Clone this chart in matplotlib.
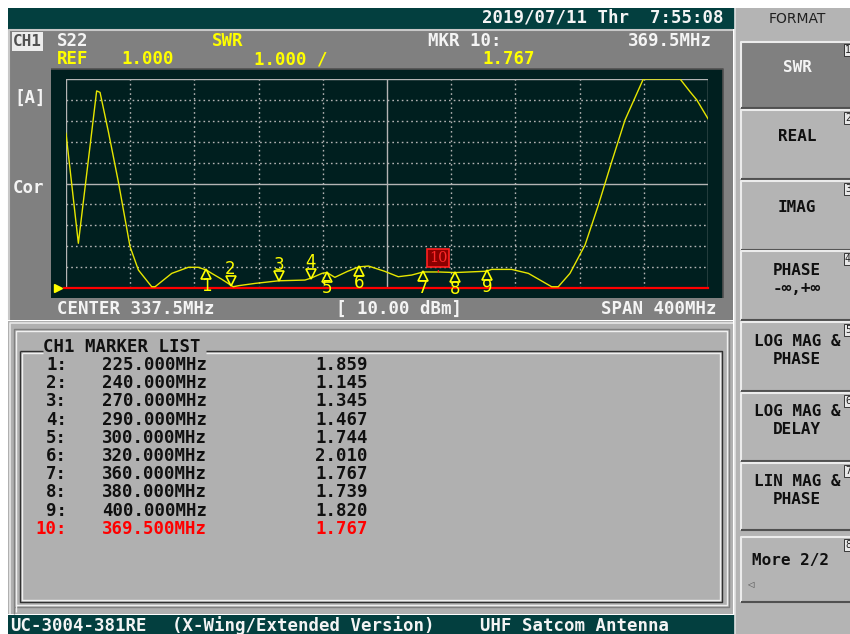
import numpy as np
import matplotlib
matplotlib.use('Agg')
import matplotlib.pyplot as plt
from matplotlib.patches import Rectangle
from matplotlib.transforms import offset_copy

# ------------------------ data ------------------------
# S22 SWR trace (MHz, SWR)
trace_freq = [137.5, 145.2, 156.6, 158.7, 163.9, 170.1, 177.4, 182.6, 190.9, 193.0,
              203.4, 213.7, 219.9, 225.0, 228.3, 234.5, 240.0, 241.7, 244.9, 255.3,
              270.0, 286.4, 290.0, 297.0, 300.0, 305.0, 313.0, 320.0, 326.0, 336.0,
              344.5, 352.9, 360.0, 369.5, 380.0, 398.6, 400.0, 402.7, 415.2, 425.6,
              440.1, 444.2, 451.5, 460.9, 469.2, 477.5, 485.8, 497.2, 520.1, 526.3,
              530.5, 537.5]
trace_swr = [8.40, 3.14, 10.43, 10.36, 8.48, 6.09, 2.98, 1.86, 1.06, 1.06,
             1.70, 1.99, 1.99, 1.859, 1.70, 1.42, 1.145, 1.06, 1.11, 1.22,
             1.345, 1.38, 1.467, 1.70, 1.744, 1.51, 1.80, 2.010, 2.05, 1.80,
             1.54, 1.62, 1.767, 1.767, 1.739, 1.80, 1.820, 1.89, 1.89, 1.70,
             1.06, 1.06, 1.70, 3.06, 4.97, 7.04, 9.04, 11.0, 11.0, 10.39,
             10.0, 9.10]

marker_freq = [225.0, 240.0, 270.0, 290.0, 300.0, 320.0, 360.0, 380.0, 400.0, 369.5]
marker_swr = [1.859, 1.145, 1.345, 1.467, 1.744, 2.010, 1.767, 1.739, 1.820, 1.767]
marker_up = [True, False, False, False, True, True, True, True, True, True]

center_mhz = 337.5
span_mhz = 400.0
ref_val = 1.000
scale_div = 1.000

menu_labels = ["SWR", "REAL", "IMAG", "PHASE\n-\u221e,+\u221e", "LOG MAG &\nPHASE",
               "LOG MAG &\nDELAY", "LIN MAG &\nPHASE"]
menu_tops = [42, 110, 181, 251, 322, 393, 463]
menu_bots = [108, 179, 250, 320, 391, 461, 530]

# ------------------------ colours / fonts ------------------------
TEAL = '#033f3f'
PANEL = '#808080'
SCREEN = '#001f1f'
LISTBG = '#b0b0b0'
MENUBG = '#b4b4b4'
YEL = '#ffff00'
WHT = '#f4f4f4'
MONO = 'DejaVu Sans Mono'
FS = 12.5

fig = plt.figure(figsize=(8.5, 6.34), dpi=100)
fig.patch.set_facecolor('white')

# background axes in pixel coordinates for the instrument chrome
bg = fig.add_axes([0, 0, 1, 1])
bg.set_xlim(0, 850)
bg.set_ylim(634, 0)
bg.axis('off')


def rect(x0, y0, x1, y1, color, **kw):
    bg.add_patch(Rectangle((x0, y0), x1 - x0, y1 - y0, facecolor=color, edgecolor='none', **kw))


def line(xs, ys, color, lw=1.0):
    bg.plot(xs, ys, color=color, lw=lw, solid_capstyle='butt')


def txt(x, y, s, color=WHT, ha='left', size=FS, weight='bold', family=MONO, **kw):
    bg.text(x, y, s, color=color, ha=ha, va='center', fontsize=size,
            fontweight=weight, family=family, **kw)


# top status bar
rect(8, 8, 735, 29, TEAL)
txt(724, 17, "2019/07/11 Thr  7:55:08", ha='right')

# graph panel
rect(8, 29, 733, 320, PANEL)
line([9, 9, 733], [320, 30, 30], '#c8c8c8', 1.5)
rect(51, 69, 723, 298, SCREEN)
line([51, 723, 723], [69, 69, 298], '#505050', 1.2)

# CH1 tag and header lines
rect(12, 32, 43, 51, '#ececec')
txt(27.5, 41.5, "CH1", color='#505050', ha='center', size=11.5)
txt(57, 41.5, "S22")
txt(212, 41.5, "SWR", color=YEL)
txt(428, 41.5, "MKR 10:")
txt(712, 41.5, "%.1fMHz" % marker_freq[9], ha='right')
txt(57, 59, "REF", color=YEL)
txt(121, 59, "%.3f" % ref_val, color=YEL)
txt(254, 59, "%.3f /" % scale_div, color=YEL)
txt(482, 59, "%.3f" % marker_swr[9], color=YEL)
txt(14, 98, "[A]")
txt(13, 188, "Cor")
txt(57, 309, "CENTER %.1fMHz" % center_mhz)
txt(336, 309, "[ 10.00 dBm]")
txt(717, 309, "SPAN %dMHz" % span_mhz, ha='right')

# marker list panel
rect(8, 321, 733, 614, LISTBG)
line([10, 10, 733], [614, 323, 323], '#e8e8e8', 1.2)
line([14, 14, 729, 729, 14], [614, 329, 329, 607, 607], '#808080', 1.0)
line([16, 16, 727, 727, 16], [612, 331, 331, 605, 605], '#f0f0f0', 1.0)
line([20, 43], [351, 351], '#303030', 1.0)
line([206, 722, 722, 20, 20], [351, 351, 602, 602, 351], '#303030', 1.0)
line([22, 43], [353, 353], '#f0f0f0', 1.0)
line([206, 720, 720, 22, 22], [353, 353, 600, 600, 353], '#f0f0f0', 1.0)
txt(43, 346.5, "CH1 MARKER LIST", color='#101010')
for i in range(len(marker_freq)):
    y = 365 + 18.2 * i
    col = '#ff0000' if i == 9 else '#101010'
    txt(67, y, "%d:" % (i + 1), color=col, ha='right')
    txt(102, y, "%.3fMHz" % marker_freq[i], color=col)
    txt(315, y, "%.3f" % marker_swr[i], color=col)

# bottom status bar
rect(8, 615, 735, 634, TEAL)
txt(10, 626, "UC-3004-381RE")
txt(172, 626, "(X-Wing/Extended Version)")
txt(480, 626, "UHF Satcom Antenna")

# softkey menu
rect(735, 8, 850, 634, MENUBG)
line([735.5, 735.5], [8, 634], '#e0e0e0', 1.2)
txt(797, 19, "FORMAT", color='#202020', ha='center', weight='normal', family='DejaVu Sans', size=10)
for k, (lab, t, b) in enumerate(zip(menu_labels, menu_tops, menu_bots)):
    face = PANEL if k == 0 else MENUBG
    rect(741, t, 850, b, face)
    line([741, 741, 850], [b, t, t], '#ececec', 1.5)
    line([741, 850], [b, b], '#505050', 1.5)
    tc = WHT if k == 0 else '#101010'
    if '\n' in lab:
        a, c = lab.split('\n')
        txt(797, (t + b) / 2 - 15, a, color=tc, ha='center', size=11.5)
        txt(797, (t + b) / 2 + 3, c, color=tc, ha='center', size=11.5)
    else:
        txt(797, (t + b) / 2 - 8, lab, color=tc, ha='center', size=11.5)
    txt(845, t + 8, str(k + 1), color='#202020', size=7, weight='normal',
        bbox=dict(boxstyle='square,pad=0.1', fc='#e8e8e8', ec='#202020', lw=0.6))
rect(741, 537, 850, 602, MENUBG)
line([741, 741, 850], [602, 537, 537], '#ececec', 1.5)
line([741, 850], [602, 602], '#505050', 1.5)
txt(752, 560, "More 2/2", color='#101010', size=11.5)
txt(747, 585, "\u25c1", color='#404040', size=6, weight='normal', family='DejaVu Sans')
txt(845, 545, "8", color='#202020', size=7, weight='normal',
    bbox=dict(boxstyle='square,pad=0.1', fc='#e8e8e8', ec='#202020', lw=0.6))

# ------------------------ trace axes ------------------------
f_start = center_mhz - span_mhz / 2
f_stop = center_mhz + span_mhz / 2
ax = fig.add_axes([66 / 850, 1 - 288 / 634, 642 / 850, 209 / 634])
ax.set_xlim(f_start, f_stop)
ax.set_ylim(ref_val, ref_val + 10 * scale_div)
ax.axis('off')
ax.patch.set_visible(False)

GRID = '#b4b4b4'
for k in range(11):
    fx = f_start + k * span_mhz / 10
    sy = ref_val + k * scale_div
    solid = k in (0, 5, 10)
    ls = '-' if solid else (0, (1.2, 2.2))
    ax.axvline(fx, color=GRID, lw=1.0, ls=ls, zorder=1)
    if k > 0:
        ax.axhline(sy, color=GRID, lw=1.0, ls=ls, zorder=1)

# reference line and pointer
ax.plot([f_start - 1.5, f_stop], [ref_val, ref_val], color='#ff0000', lw=1.6, zorder=2,
        clip_on=False)
ax.plot([f_start - 5], [ref_val], marker='>', ms=6, color=YEL, clip_on=False, zorder=3)

ax.plot(trace_freq, trace_swr, color='#e6e600', lw=1.0, zorder=4)

# markers
for i in range(9):
    fx, sv = marker_freq[i], marker_swr[i]
    sgn = -1 if marker_up[i] else 1
    tr = offset_copy(ax.transData, fig=fig, x=0, y=sgn * 3.2, units='points')
    ax.plot([fx], [sv], marker='^' if marker_up[i] else 'v', ms=7, mfc=SCREEN, mec=YEL,
            mew=1.2, transform=tr, clip_on=False, zorder=5)
    ax.annotate(str(i + 1), (fx, sv), xytext=(0, sgn * 11.5), textcoords='offset points',
                ha='center', va='center', color=YEL, fontsize=12,
                annotation_clip=False, zorder=6)

# active marker 10
ax.annotate(str(10), (marker_freq[9], marker_swr[9]), xytext=(0, 10), textcoords='offset points',
            ha='center', va='center', color='#ff2a2a', fontsize=10.5, family='DejaVu Serif',
            bbox=dict(boxstyle='square,pad=0.12', fc='#8a0000', ec='#ff2020', lw=1.2),
            annotation_clip=False, zorder=6)
ax.annotate('', (marker_freq[9], marker_swr[9]), xytext=(0, 3), textcoords='offset points',
            arrowprops=dict(arrowstyle='-', color='#ff2020', lw=1.0), zorder=6)

fig.savefig('out.png', dpi=100)
